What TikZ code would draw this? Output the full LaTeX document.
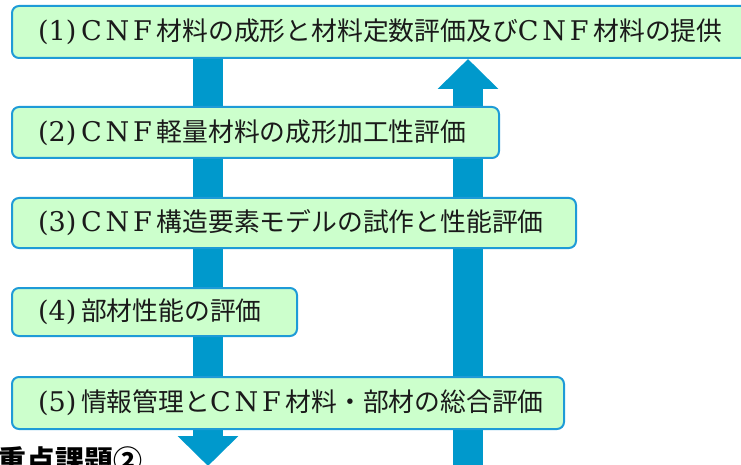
\documentclass[tikz,border=0pt]{standalone}
\usepackage{fontspec}
\newfontfamily\cjk{Noto Sans CJK JP}
\newfontfamily\latinfont[Scale=1.05]{DejaVu Serif}
\usetikzlibrary{arrows.meta,backgrounds}
\definecolor{flowblue}{HTML}{0099CC}
\definecolor{edgeblue}{HTML}{1E9BD7}
\definecolor{boxgreen}{HTML}{CCFFCC}
\definecolor{ink}{HTML}{1A1A1A}
\newcommand\cnfword{\makebox[2.93em][l]{\latinfont C\hspace{0.14em}N\hspace{0.14em}F}}
\newcommand\stageno[1]{\makebox[1.75em][l]{\latinfont\hspace{0.08em}(#1)}}
\newcommand\stagetext[2]{\makebox[#1][l]{#2}}
\tikzset{
  stagebox/.style={draw=edgeblue, fill=boxgreen, line width=2pt, rounded corners=7pt,
    inner xsep=24pt, inner ysep=0pt, anchor=north west,
    text=ink, font=\cjk\fontsize{25.8}{28}\selectfont},
  flowarrow/.style={draw=flowblue, line width=30pt,
    -{Triangle[width=59pt,length=30pt]}},
}
\begin{document}
\begin{tikzpicture}[x=1pt,y=-1pt]
\useasboundingbox (0,0) rectangle (741,465);
\node[stagebox, minimum height=52pt] (b1) at (11,5)
  {\stagetext{701pt}{\stageno{1}\cnfword 材料の成形と材料定数評価及び\cnfword 材料の提供}};
\node[stagebox, minimum height=51pt] (b2) at (11,106)
  {\stagetext{439pt}{\stageno{2}\cnfword 軽量材料の成形加工性評価}};
\node[stagebox, minimum height=50pt] (b3) at (11,197)
  {\stagetext{516pt}{\stageno{3}\cnfword 構造要素モデルの試作と性能評価}};
\node[stagebox, minimum height=48pt] (b4) at (11,287)
  {\stagetext{237pt}{\stageno{4}部材性能の評価}};
\node[stagebox, minimum height=52pt] (b5) at (11,376)
  {\stagetext{504pt}{\stageno{5}情報管理と\cnfword 材料・部材の総合評価}};
\node[font=\cjk\bfseries\fontsize{29}{32}\selectfont, anchor=base west, inner sep=0pt] (title)
  at (-3,471) {重点課題②};
\coordinate (downtip) at (208,466);
\coordinate (uptail) at (468,480);
\begin{scope}[on background layer]
  \draw[flowarrow] (b1.south -| downtip) -- (downtip);
  \draw[flowarrow] (uptail) -- (uptail |- b1.south);
\end{scope}
\end{tikzpicture}
\end{document}
